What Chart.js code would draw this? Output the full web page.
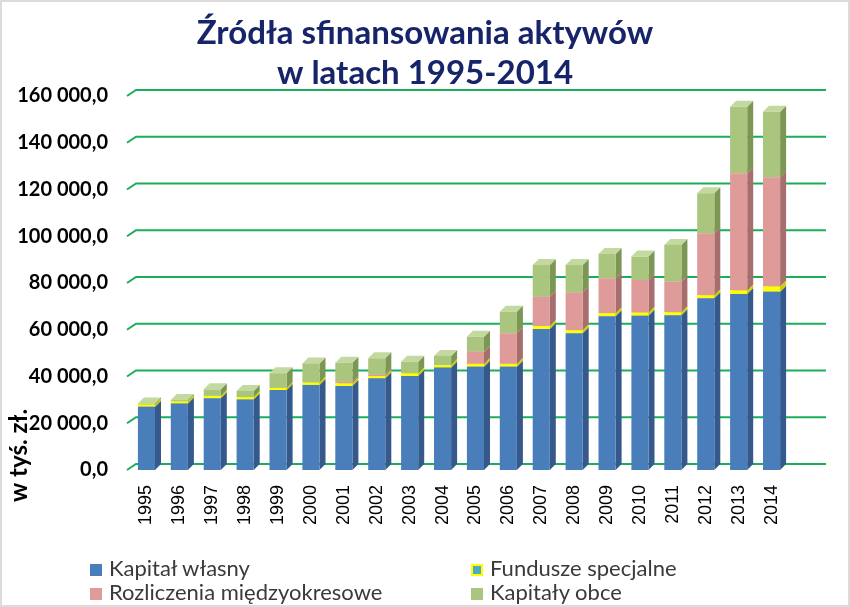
<!DOCTYPE html>
<html>
<head>
<meta charset="utf-8">
<script src="https://cdn.jsdelivr.net/npm/chart.js@4/dist/chart.umd.min.js"></script>
<style>
  body { margin: 0; background: #fff; }
  #wrap { position: relative; width: 850px; height: 607px; box-sizing: border-box; border: 2px solid #dcdcdc; overflow: hidden; }
  #chart { position: absolute; left: -2px; top: -2px; }
  #legend { position: absolute; left: 0; top: 0; font-family: Lato, sans-serif; font-size: 22px; color: #3a3a3a; }
  .item { position: absolute; white-space: nowrap; line-height: 24px; }
  .item i { display: inline-block; width: 12px; height: 12px; margin-right: 7px; vertical-align: 0px; box-sizing: border-box; }
</style>
</head>
<body>
<div id="wrap">
  <canvas id="chart" width="850" height="607"></canvas>
  <div id="legend"></div>
</div>
<script>
'use strict';

var years = ['1995', '1996', '1997', '1998', '1999', '2000', '2001', '2002', '2003', '2004',
  '2005', '2006', '2007', '2008', '2009', '2010', '2011', '2012', '2013', '2014'];

var kapitalWlasny = [27100, 28500, 30700, 30200, 34200, 36400, 35900, 39200, 40200, 43800,
  44200, 44200, 60300, 58500, 65800, 66000, 66200, 73500, 75300, 76300];
var funduszeSpecjalne = [900, 900, 1000, 1000, 900, 1000, 1200, 1000, 1200, 1100,
  1200, 1200, 1300, 1300, 1300, 1300, 1300, 1300, 1500, 2200];
var rozliczenia = [0, 0, 0, 0, 0, 0, 700, 600, 0, 0,
  5200, 13100, 12500, 16100, 14900, 14000, 13100, 26500, 50100, 46700];
var kapitalyObce = [400, 500, 2800, 2600, 6300, 8200, 8100, 7000, 4900, 3900,
  6400, 9200, 13600, 11800, 10400, 10000, 15700, 17100, 28500, 28100];

var yTicks = [0, 20000, 40000, 60000, 80000, 100000, 120000, 140000, 160000];

var seriesNames = ['Kapitał własny', 'Fundusze specjalne', 'Rozliczenia międzyokresowe', 'Kapitały obce'];
var titleLines = ['Źródła sfinansowania aktywów', 'w latach 1995-2014'];

// front / side / top colours for the fake 3d columns
var palette = [
  { front: '#4a7ebb', side: '#35598a', top: '#6a95cc' },
  { front: '#ffff00', side: '#d0d000', top: '#ffff70' },
  { front: '#df9b99', side: '#a66f6d', top: '#ecb9b7' },
  { front: '#aac57e', side: '#7c9654', top: '#c4d9a0' }
];

function formatTick(v) {
  return String(v).replace(/\B(?=(\d{3})+(?!\d))/g, ' ') + ',0';
}

var DEPTH = 6;

// grid on the back wall with the little diagonal to the axis
var wallGrid = {
  id: 'wallGrid',
  beforeDatasetsDraw: function(chart) {
    var ctx = chart.ctx;
    var y = chart.scales.y;
    var left = chart.chartArea.left;
    ctx.save();
    ctx.strokeStyle = '#1aae5a';
    ctx.lineWidth = 2;
    yTicks.forEach(function(t) {
      var py = y.getPixelForValue(t);
      ctx.beginPath();
      ctx.moveTo(left - 3, py);
      ctx.lineTo(left + DEPTH, py - DEPTH);
      ctx.lineTo(826, py - DEPTH);
      ctx.stroke();
    });
    ctx.restore();
  }
};

// side and top faces, drawn before the fronts so the fronts cover them
var columns3d = {
  id: 'columns3d',
  beforeDatasetsDraw: function(chart) {
    var ctx = chart.ctx;
    ctx.save();
    chart.data.datasets.forEach(function(ds, i) {
      var meta = chart.getDatasetMeta(i);
      meta.data.forEach(function(bar) {
        var p = bar.getProps(['x', 'y', 'base', 'width'], true);
        if (Math.abs(p.base - p.y) < 0.1) return;
        var l = p.x - p.width / 2;
        var r = p.x + p.width / 2;
        ctx.fillStyle = palette[i].side;
        ctx.beginPath();
        ctx.moveTo(r, p.base);
        ctx.lineTo(r + DEPTH, p.base - DEPTH);
        ctx.lineTo(r + DEPTH, p.y - DEPTH);
        ctx.lineTo(r, p.y);
        ctx.closePath();
        ctx.fill();
        ctx.fillStyle = palette[i].top;
        ctx.beginPath();
        ctx.moveTo(l, p.y);
        ctx.lineTo(l + DEPTH, p.y - DEPTH);
        ctx.lineTo(r + DEPTH, p.y - DEPTH);
        ctx.lineTo(r, p.y);
        ctx.closePath();
        ctx.fill();
      });
    });
    ctx.restore();
  }
};

// title centred on the whole picture and the rotated unit label
var texts = {
  id: 'texts',
  afterDraw: function(chart) {
    var ctx = chart.ctx;
    ctx.save();
    ctx.font = 'bold 33px Lato';
    ctx.fillStyle = '#17246a';
    ctx.textAlign = 'center';
    ctx.textBaseline = 'middle';
    ctx.fillText(titleLines[0], 425, 33);
    ctx.fillText(titleLines[1], 425, 73);

    ctx.translate(19, 502);
    ctx.rotate(-Math.PI / 2);
    ctx.font = 'bold 24px Lato';
    ctx.fillStyle = '#000';
    ctx.textAlign = 'left';
    ctx.fillText('w tyś. zł.', 0, 0);
    ctx.restore();
  }
};

var seriesData = [kapitalWlasny, funduszeSpecjalne, rozliczenia, kapitalyObce];

var chart = new Chart(document.getElementById('chart'), {
  type: 'bar',
  data: {
    labels: years,
    datasets: seriesData.map(function(d, i) {
      return {
        label: seriesNames[i],
        data: d,
        backgroundColor: palette[i].front,
        borderWidth: 0,
        barPercentage: 0.52,
        categoryPercentage: 1
      };
    })
  },
  options: {
    responsive: false,
    animation: false,
    layout: { padding: { left: 0, right: 62, top: 96, bottom: 0 } },
    plugins: {
      legend: { display: false },
      tooltip: { enabled: false },
      title: { display: false }
    },
    scales: {
      x: {
        stacked: true,
        grid: { display: false, drawTicks: false },
        border: { display: false },
        ticks: {
          color: '#000',
          font: { family: 'Liberation Sans', size: 18 },
          minRotation: 90,
          maxRotation: 90,
          padding: 15,
          autoSkip: false
        },
        afterFit: function(s) { s.height = 137; }
      },
      y: {
        stacked: true,
        min: 0,
        max: 160000,
        grid: { display: false, drawTicks: false },
        border: { display: false },
        ticks: {
          stepSize: 20000,
          color: '#000',
          font: { family: 'Lato', size: 20, weight: 'bold' },
          padding: 22,
          callback: function(v) { return formatTick(v); }
        },
        afterFit: function(s) { s.width = 130; }
      }
    }
  },
  plugins: [wallGrid, columns3d, texts]
});

// legend in two columns, like the original
var legendPos = [[88, 554], [469, 554], [88, 578], [469, 578]];
var legendBox = [
  'background:' + palette[0].front,
  'background:#4bacc6;border:2px solid #ffff00',
  'background:' + palette[2].front,
  'background:' + palette[3].front
];
var legend = document.getElementById('legend');
seriesNames.forEach(function(name, i) {
  var el = document.createElement('div');
  el.className = 'item';
  el.style.left = legendPos[i][0] + 'px';
  el.style.top = legendPos[i][1] + 'px';
  el.innerHTML = '<i style="' + legendBox[i] + '"></i>' + name;
  legend.appendChild(el);
});
</script>
</body>
</html>
